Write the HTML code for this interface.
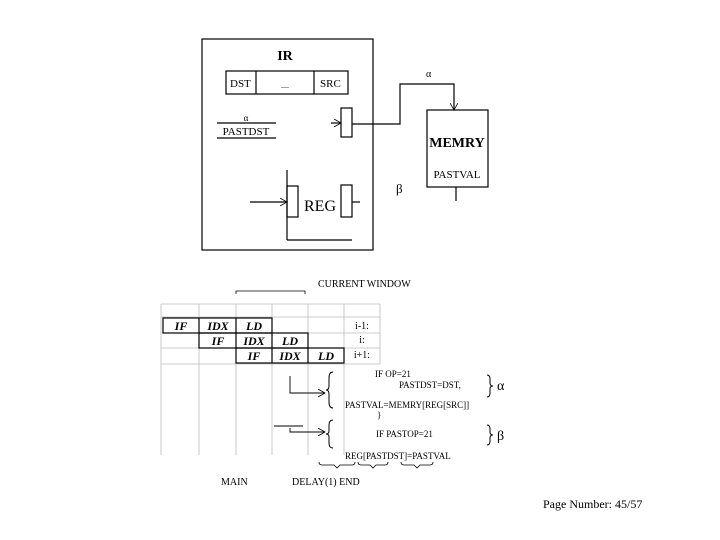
<!DOCTYPE html>
<html><head><meta charset="utf-8"><style>
html,body{margin:0;padding:0;background:#fff;width:720px;height:540px;overflow:hidden}
svg{display:block}
text{font-family:"Liberation Serif",serif;fill:#000}
</style></head><body>
<svg width="720" height="540" viewBox="0 0 720 540">
<defs><marker id="a" markerWidth="8" markerHeight="8" refX="7" refY="4" orient="auto" markerUnits="userSpaceOnUse"><path d="M0,0 L7,4 L0,8" fill="none" stroke="#000" stroke-width="0.8"/></marker></defs>
<g stroke="#000" stroke-width="1.2" fill="none">
<rect x="202" y="39" width="171" height="211"/>
<rect x="226" y="71" width="122" height="23"/>
<line x1="256" y1="71" x2="256" y2="94"/><line x1="314" y1="71" x2="314" y2="94"/>
<line x1="217" y1="123" x2="276" y2="123"/><line x1="217" y1="138" x2="276" y2="138"/>
<rect x="341" y="108" width="11" height="29"/>
<line x1="331" y1="123" x2="341" y2="123" marker-end="url(#a)"/>
<polyline points="352,124 400,124 400,84 454,84 454,110" marker-end="url(#a)"/>
<rect x="427" y="110" width="61" height="77"/>
<line x1="456" y1="187" x2="456" y2="201"/>
<line x1="287" y1="170" x2="287" y2="240"/><line x1="287" y1="240" x2="352" y2="240"/>
<rect x="287" y="186" width="11" height="31"/>
<line x1="250" y1="202" x2="287" y2="202" marker-end="url(#a)"/>
<rect x="341" y="185" width="11" height="32"/>
<line x1="360" y1="202" x2="352" y2="202"/>
</g>
<text x="285" y="60" font-size="14" font-weight="bold" text-anchor="middle">IR</text>
<text x="230" y="87" font-size="11" font-family="Liberation Sans">DST</text>
<text x="285" y="88" font-size="8" text-anchor="middle">....</text>
<text x="320" y="87" font-size="11" font-family="Liberation Sans">SRC</text>
<text x="246" y="121" font-size="9" text-anchor="middle">α</text>
<text x="246" y="135" font-size="11" text-anchor="middle" font-family="Liberation Sans">PASTDST</text>
<text x="426" y="77" font-size="10">α</text>
<text x="457" y="147" font-size="14" font-weight="bold" text-anchor="middle">MEMRY</text>
<text x="457" y="178" font-size="11" text-anchor="middle" font-family="Liberation Sans">PASTVAL</text>
<text x="396" y="193" font-size="13">β</text>
<text x="320" y="211" font-size="16" text-anchor="middle">REG</text>
<g stroke="#bbb" stroke-width="0.8">
<line x1="161" y1="304" x2="380" y2="304"/>
<line x1="161" y1="317" x2="380" y2="317"/>
<line x1="161" y1="333" x2="380" y2="333"/>
<line x1="161" y1="348" x2="380" y2="348"/>
<line x1="161" y1="364" x2="380" y2="364"/>
<line x1="161" y1="304" x2="161" y2="455"/>
<line x1="199" y1="304" x2="199" y2="455"/>
<line x1="236" y1="304" x2="236" y2="455"/>
<line x1="272" y1="304" x2="272" y2="455"/>
<line x1="308" y1="304" x2="308" y2="455"/>
<line x1="344" y1="304" x2="344" y2="455"/>
<line x1="380" y1="304" x2="380" y2="364"/>
</g>
<g stroke="#000" stroke-width="1.2" fill="none">
<rect x="163" y="318" width="109" height="15"/>
<line x1="199" y1="318" x2="199" y2="333"/><line x1="236" y1="318" x2="236" y2="333"/>
<rect x="199" y="333" width="109" height="15"/>
<line x1="236" y1="333" x2="236" y2="348"/><line x1="272" y1="333" x2="272" y2="348"/>
<rect x="236" y="348" width="108" height="15"/>
<line x1="272" y1="348" x2="272" y2="363"/><line x1="308" y1="348" x2="308" y2="363"/>
<polyline points="236,294 236,291 305,291 305,294" stroke-width="0.8"/>
<polyline points="290,376 290,393 325,393" marker-end="url(#a)" stroke-width="0.9"/>
<line x1="274" y1="426" x2="303" y2="426" stroke-width="0.9"/>
<polyline points="290,428 290,432 325,432" marker-end="url(#a)" stroke-width="0.9"/>
<path d="M333,372 q-4,0 -4,6 v8 q0,4 -3,4 q3,0 3,4 v8 q0,6 4,6" stroke-width="1"/>
<path d="M333,420 q-4,0 -4,5 v6 q0,3 -3,3 q3,0 3,3 v6 q0,5 4,5" stroke-width="1"/>
<path d="M487,375 q3,0 3,4 v4 q0,3 3,3 q-3,0 -3,3 v4 q0,4 -3,4" stroke-width="1"/>
<path d="M487,425 q3,0 3,4 v3 q0,3 3,3 q-3,0 -3,3 v3 q0,4 -3,4" stroke-width="1"/>
<path d="M319,462 q0,3 3,3 h12 l3,3 l3,-3 h12 q3,0 3,-3" stroke-width="0.8"/>
<path d="M358,462 q0,3 3,3 h9 l3,3 l3,-3 h9 q3,0 3,-3" stroke-width="0.8"/>
<path d="M401,462 q0,3 3,3 h10 l3,3 l3,-3 h10 q3,0 3,-3" stroke-width="0.8"/>
</g>
<text x="318" y="287" font-size="10">CURRENT WINDOW</text>
<g font-size="12" font-weight="bold" font-style="italic" text-anchor="middle">
<text x="181" y="330">IF</text><text x="218" y="330">IDX</text><text x="254" y="330">LD</text>
<text x="218" y="345">IF</text><text x="254" y="345">IDX</text><text x="290" y="345">LD</text>
<text x="254" y="360">IF</text><text x="290" y="360">IDX</text><text x="326" y="360">LD</text>
</g>
<g font-size="10" text-anchor="middle">
<text x="362" y="329">i-1:</text><text x="362" y="343">i:</text><text x="362" y="358">i+1:</text>
</g>
<g font-size="9">
<text x="375" y="377">IF OP=21</text>
<text x="399" y="388">PASTDST=DST,</text>
<text x="345" y="408">PASTVAL=MEMRY[REG[SRC]]</text>
<text x="377" y="418">}</text>
<text x="376" y="437">IF PASTOP=21</text>
<text x="345" y="459">REG[PASTDST]=PASTVAL</text>
</g>
<text x="497" y="390" font-size="14">α</text>
<text x="497" y="440" font-size="14">β</text>
<text x="221" y="485" font-size="10">MAIN</text>
<text x="292" y="485" font-size="10">DELAY(1) END</text>
<text x="543" y="508" font-size="12">Page Number: 45/57</text>
</svg>
</body></html>
